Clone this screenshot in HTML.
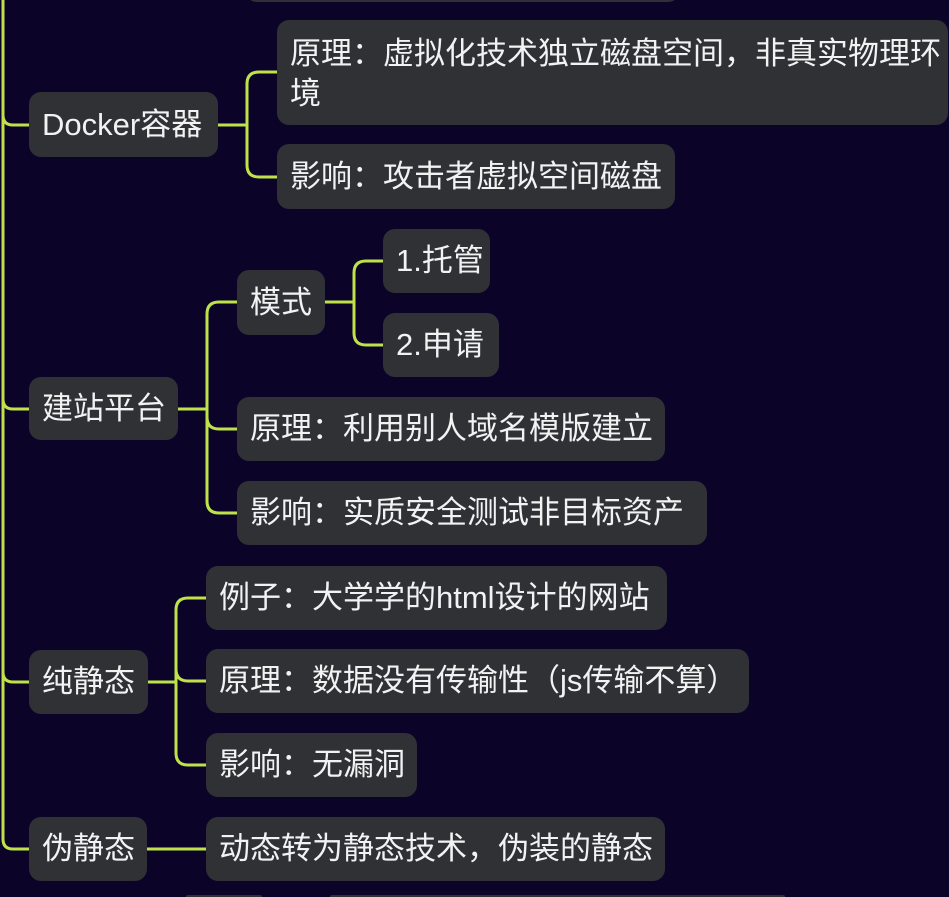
<!DOCTYPE html>
<html><head><meta charset="utf-8"><style>
html,body{margin:0;padding:0;width:949px;height:897px;overflow:hidden;}
body{background:#0b0328;position:relative;font-family:"Liberation Sans","Noto Sans CJK SC",sans-serif;}
.b{position:absolute;background:#2f3135;border-radius:12px;color:#f2f2f2;font-size:31px;box-sizing:border-box;padding-left:13px;display:flex;align-items:center;white-space:nowrap;line-height:40px;}
svg{position:absolute;left:0;top:0;}
</style></head><body>
<svg width="949" height="897">
<g fill="none" stroke="#bfe24a" stroke-width="3" stroke-linecap="round">
<path d="M3 0 V839 Q3 849 13 849 H29"/>
<path d="M3 115 Q3 125 13 125 H29"/>
<path d="M3 399 Q3 409 13 409 H29"/>
<path d="M3 672 Q3 682 13 682 H29"/>
<path d="M218 125 H247"/>
<path d="M277 72 H259 Q247 72 247 84 V165 Q247 177 259 177 H277"/>
<path d="M178 409 H207"/>
<path d="M237 302 H219 Q207 302 207 314 V501 Q207 513 219 513 H237"/>
<path d="M207 417 Q207 429 219 429 H237"/>
<path d="M325 302 H354"/>
<path d="M383 261 H366 Q354 261 354 273 V333 Q354 345 366 345 H383"/>
<path d="M148 682 H176"/>
<path d="M206 598 H188 Q176 598 176 610 V753 Q176 765 188 765 H206"/>
<path d="M176 669 Q176 681 188 681 H206"/>
<path d="M147 849 H206"/>
</g></svg>
<div class="b" style="left:245px;top:-60px;width:435px;height:62px;"></div>
<div class="b" style="left:29px;top:92px;width:189px;height:65px;">Docker容器</div>
<div class="b" style="left:277px;top:20px;width:671px;height:105px;align-items:flex-start;padding-top:14px;">原理：虚拟化技术独立磁盘空间，非真实物理环<br>境</div>
<div class="b" style="left:277px;top:144px;width:398px;height:65px;">影响：攻击者虚拟空间磁盘</div>
<div class="b" style="left:29px;top:377px;width:149px;height:63px;">建站平台</div>
<div class="b" style="left:237px;top:270px;width:88px;height:65px;">模式</div>
<div class="b" style="left:383px;top:229px;width:107px;height:64px;">1.托管</div>
<div class="b" style="left:383px;top:313px;width:116px;height:64px;">2.申请</div>
<div class="b" style="left:237px;top:397px;width:428px;height:64px;">原理：利用别人域名模版建立</div>
<div class="b" style="left:237px;top:481px;width:470px;height:64px;">影响：实质安全测试非目标资产</div>
<div class="b" style="left:29px;top:650px;width:119px;height:64px;">纯静态</div>
<div class="b" style="left:206px;top:566px;width:461px;height:64px;">例子：大学学的html设计的网站</div>
<div class="b" style="left:206px;top:649px;width:543px;height:64px;">原理：数据没有传输性（js传输不算）</div>
<div class="b" style="left:206px;top:733px;width:211px;height:64px;">影响：无漏洞</div>
<div class="b" style="left:29px;top:817px;width:118px;height:64px;">伪静态</div>
<div class="b" style="left:206px;top:817px;width:459px;height:64px;">动态转为静态技术，伪装的静态</div>
<div class="b" style="left:186px;top:895px;width:76px;height:2px;border-radius:4px 4px 0 0;"></div>
<div class="b" style="left:330px;top:895px;width:455px;height:2px;border-radius:4px 4px 0 0;"></div>
</body></html>
